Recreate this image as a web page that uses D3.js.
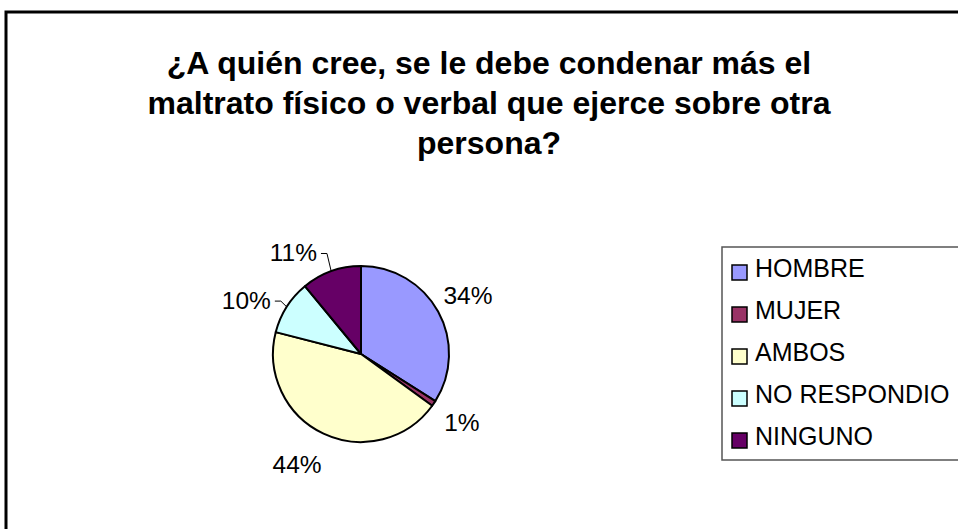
<!DOCTYPE html>
<html>
<head>
<meta charset="utf-8">
<script src="https://cdn.jsdelivr.net/npm/d3@7"></script>
<style>
  body { margin: 0; background: #fff; }
  text { font-family: Arial, "Liberation Sans", sans-serif; }
</style>
</head>
<body>
<div id="chart"></div>
<script>
// data
var categories = ["HOMBRE", "MUJER", "AMBOS", "NO RESPONDIO", "NINGUNO"]
var values = [34, 1, 44, 10, 11]
var colors = ["#9999FF", "#993366", "#FFFFCC", "#CCFFFF", "#660066"]
var titleLines = ["¿A quién cree, se le debe condenar más el",
                  "maltrato físico o verbal que ejerce sobre otra",
                  "persona?"]

var width = 958, height = 529
var cx = 361, cy = 354, radius = 88

var svg = d3.select("#chart").append("svg")
    .attr("width", width)
    .attr("height", height)

// outer frame (runs off the right and bottom edge)
svg.append("rect")
    .attr("x", 6).attr("y", 12)
    .attr("width", 1000).attr("height", 600)
    .attr("fill", "none")
    .attr("stroke", "#000")
    .attr("stroke-width", 3)

// title
svg.append("g").selectAll("text")
    .data(titleLines)
    .enter()
    .append("text")
    .attr("x", 489)
    .attr("y", function(d, i) { return 74 + i * 40 })
    .attr("text-anchor", "middle")
    .attr("font-size", "32px")
    .attr("font-weight", "bold")
    .text(function(d) { return d })

var table = categories.map(function(c, i) { return {name: c, value: values[i], color: colors[i]} })

var pie = d3.pie().sort(null).value(function(d) { return d.value })
var arcs = pie(table)
var arc = d3.arc().innerRadius(0).outerRadius(radius)
var labelArc = d3.arc().innerRadius(122).outerRadius(122)
var edgeArc = d3.arc().innerRadius(radius).outerRadius(radius)

var g = svg.append("g").attr("transform", "translate(" + cx + "," + cy + ")")

g.selectAll("path.slice")
    .data(arcs)
    .enter()
    .append("path")
    .attr("class", "slice")
    .attr("d", arc)
    .attr("fill", function(d) { return d.data.color })
    .attr("stroke", "#000")
    .attr("stroke-width", 2)
    .attr("stroke-linejoin", "round")

var total = d3.sum(values)
function midAngle(d) { return (d.startAngle + d.endAngle) / 2 }
// labels in the upper left were dragged out by hand, with a leader line
function hasLeader(d) { return midAngle(d) > Math.PI * 1.5 }

var labels = g.selectAll("text.pct")
    .data(arcs)
    .enter()
    .append("text")
    .attr("class", "pct")
    .attr("font-size", "24.5px")
    .attr("dy", "0.36em")
    .text(function(d) { return Math.round(d.data.value / total * 100) + "%" })
    .each(function(d) {
        var t = d3.select(this)
        if (!hasLeader(d)) {
            var c = labelArc.centroid(d)
            if (midAngle(d) > Math.PI) c[0] -= 12
            t.attr("x", c[0]).attr("y", c[1]).attr("text-anchor", "middle")
            return
        }
        var p = edgeArc.centroid(d)
        var cs = Math.cos(midAngle(d))
        var ly = p[1] - 20 * cs * cs
        var tx = p[0] - 14 - 4 * (1 - cs)
        t.attr("x", tx).attr("y", ly - 1).attr("text-anchor", "end")
        g.append("path")
            .attr("d", "M" + p[0] + "," + p[1] + "L" + (tx + 10) + "," + ly + "L" + (tx + 4) + "," + ly)
            .attr("fill", "none")
            .attr("stroke", "#000")
            .attr("stroke-width", 1)
    })

// legend
var legend = svg.append("g").attr("transform", "translate(722,247)")
legend.append("rect")
    .attr("x", 0).attr("y", 0)
    .attr("width", 300).attr("height", 213)
    .attr("fill", "#fff")
    .attr("stroke", "#555")
    .attr("stroke-width", 1.5)

var item = legend.selectAll("g.item")
    .data(table)
    .enter()
    .append("g")
    .attr("class", "item")
    .attr("transform", function(d, i) { return "translate(0," + (i * 42) + ")" })

item.append("rect")
    .attr("x", 10).attr("y", 18)
    .attr("width", 15).attr("height", 15)
    .attr("fill", function(d) { return d.color })
    .attr("stroke", "#000")
    .attr("stroke-width", 1.5)

item.append("text")
    .attr("x", 33).attr("y", 30)
    .attr("font-size", "25px")
    .text(function(d) { return d.name })
</script>
</body>
</html>
